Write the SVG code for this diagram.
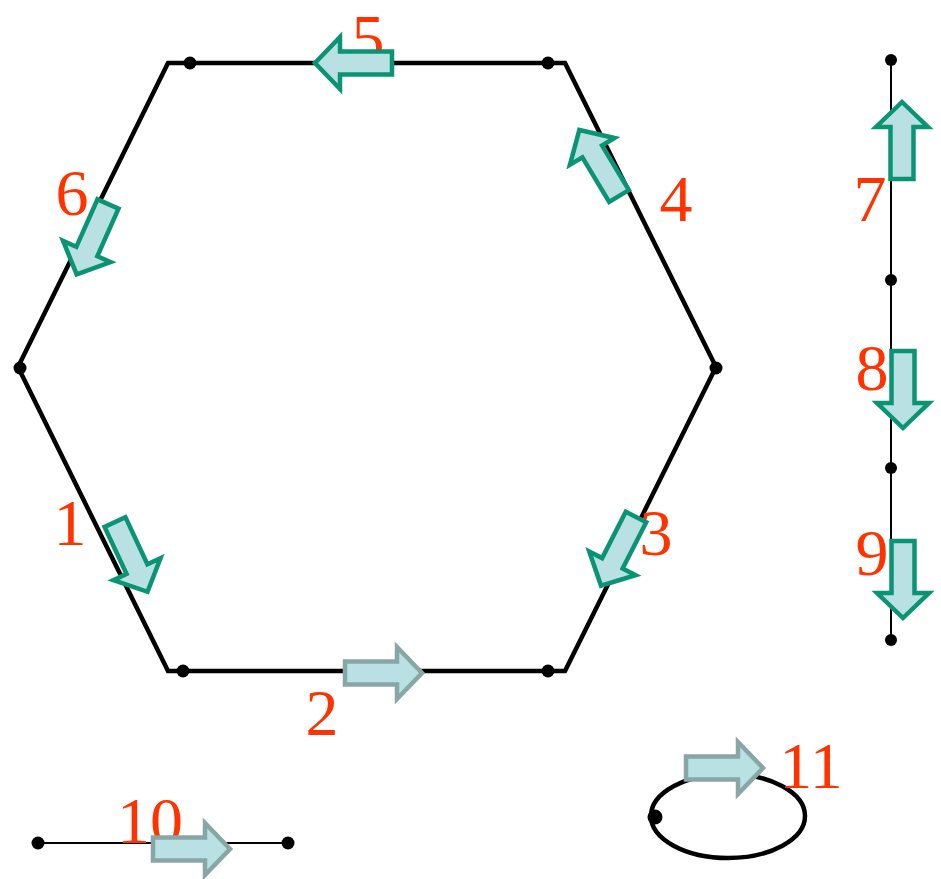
<svg xmlns="http://www.w3.org/2000/svg" width="941" height="879" viewBox="0 0 941 879">
<style>
.edge{fill:none;stroke:#000;stroke-width:4.5;stroke-linejoin:miter}
.thin{fill:none;stroke:#000;stroke-width:2}
.dot{fill:#000}
.lbl{font-family:"Liberation Serif","Times New Roman",serif;font-size:66px;fill:#ff3300;text-anchor:middle}
.ag{fill:#b9e0e2;stroke:#0a9474;stroke-width:4.5;stroke-linejoin:miter}
.ay{fill:#b9e0e2;stroke:#88a6a6;stroke-width:4.5;stroke-linejoin:miter}
</style>
<defs>
<path id="arr" d="M0,-11.5 L52,-11.5 L52,-26 L77,0 L52,26 L52,11.5 L0,11.5 Z"/>
</defs>
<rect width="941" height="879" fill="#fff"/>
<g id="connectors">
<polygon class="edge" points="168,63 565,63 716,367 565,671 168,671 18,367"/>
<line class="thin" x1="891" y1="60" x2="891" y2="640"/>
<line class="thin" x1="38" y1="843" x2="288" y2="843"/>
<ellipse class="edge" cx="728" cy="816" rx="77" ry="42"/>
</g>
<g id="nodes">
<g id="n1"><circle class="dot" cx="190" cy="63" r="6.5"/></g>
<g id="n2"><circle class="dot" cx="548" cy="63" r="6.5"/></g>
<g id="n3"><circle class="dot" cx="716" cy="368" r="6.5"/></g>
<g id="n4"><circle class="dot" cx="548" cy="671" r="6.5"/></g>
<g id="n5"><circle class="dot" cx="183" cy="671" r="6.5"/></g>
<g id="n6"><circle class="dot" cx="20" cy="368" r="6.5"/></g>
<g id="n7"><circle class="dot" cx="891" cy="60" r="6"/></g>
<g id="n8"><circle class="dot" cx="891" cy="280" r="6"/></g>
<g id="n9"><circle class="dot" cx="891" cy="468" r="6"/></g>
<g id="n10"><circle class="dot" cx="891" cy="640" r="6"/></g>
<g id="n11"><circle class="dot" cx="38" cy="843" r="6.5"/></g>
<g id="n12"><circle class="dot" cx="288" cy="843" r="6.5"/></g>
<g id="n13"><circle class="dot" cx="655" cy="817" r="7.5"/></g>
</g>
<g id="labels">
<text class="lbl" x="368" y="60">5</text>
<text class="lbl" x="72" y="215">6</text>
<text class="lbl" x="676" y="221">4</text>
<text class="lbl" x="870" y="221">7</text>
<text class="lbl" x="872" y="390">8</text>
<text class="lbl" x="872" y="575">9</text>
<text class="lbl" x="70" y="545">1</text>
<text class="lbl" x="656" y="555">3</text>
<text class="lbl" x="322" y="735">2</text>
<text class="lbl" x="150" y="843">10</text>
<text class="lbl" x="811" y="788">11</text>
</g>
<g id="arrows">
<use href="#arr" class="ag" transform="translate(392,63) rotate(180)"/>
<use href="#arr" class="ay" transform="translate(345,673)"/>
<use href="#arr" class="ag" transform="translate(108,204) rotate(114)"/>
<use href="#arr" class="ag" transform="translate(115,522) rotate(65)"/>
<use href="#arr" class="ag" transform="translate(636,517) rotate(117)"/>
<use href="#arr" class="ag" transform="translate(619,196) rotate(-121)"/>
<use href="#arr" class="ag" transform="translate(902,179) rotate(-90)"/>
<use href="#arr" class="ag" transform="translate(903,351) rotate(90)"/>
<use href="#arr" class="ag" transform="translate(903,541) rotate(90)"/>
<use href="#arr" class="ay" transform="translate(153,849)"/>
<use href="#arr" class="ay" transform="translate(686,768)"/>
</g>
</svg>
